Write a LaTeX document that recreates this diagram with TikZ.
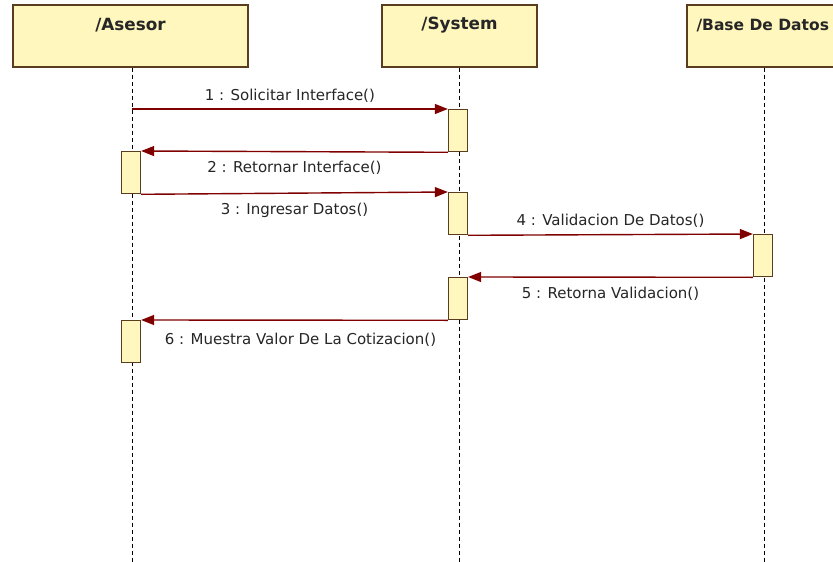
\documentclass[tikz,border=0pt]{standalone}
\usepackage{fontspec}
\setmainfont{DejaVu Sans}
\usetikzlibrary{arrows.meta}
\definecolor{objfill}{RGB}{255,247,190}
\definecolor{objborder}{RGB}{90,60,30}
\definecolor{msgred}{RGB}{128,0,0}
\tikzset{
  obj/.style={draw=objborder, fill=objfill, line width=1.3pt, minimum height=62pt, inner sep=0pt},
  objtitle/.style={font=\bfseries\fontsize{16.8}{19}\selectfont, text=black!85, inner sep=0pt},
  lifeline/.style={draw=black, line width=1pt, dash pattern=on 4pt off 3pt},
  act/.style={draw=objborder, fill=objfill, line width=1.3pt, minimum width=19pt, minimum height=42pt, inner sep=0pt, anchor=north},
  msg/.style={draw=msgred, line width=1.4pt, -{Triangle[length=13pt,width=10pt]}},
  msglabel/.style={font=\fontsize{15}{17}\selectfont, text=black!85, inner sep=0pt}
}
\begin{document}
\begin{tikzpicture}[x=1pt,y=-1pt]
\useasboundingbox (0,0) rectangle (833,562);
\fill[white] (0,0) rectangle (833,562);
\clip (0,0) rectangle (833,562);
% objects
\node[obj, minimum width=235pt] (asesor) at (130.5,36) {};
\node[obj, minimum width=155pt] (system) at (459.5,36) {};
\node[obj, minimum width=156pt] (base) at (765,36) {};
\node[objtitle] (tA) at ([yshift=-21pt]asesor.north) {/Asesor};
\node[objtitle] (tS) at ([yshift=-21pt]system.north) {/System};
\node[objtitle, font=\bfseries\fontsize{15.5}{18}\selectfont, anchor=west] (tB) at ([yshift=-21pt]base.north west) [xshift=10pt] {/Base De Datos};
% lifeline ends
\coordinate (aEnd) at (132,562);
\coordinate (sEnd) at (459,562);
\coordinate (bEnd) at (764,562);
\draw[lifeline] (asesor.south -| aEnd) -- (aEnd);
\draw[lifeline] (system.south -| sEnd) -- (sEnd);
\draw[lifeline] (base.south -| bEnd) -- (bEnd);
% activations
\node[act] (s1) at (458,109) {};
\node[act] (a1) at (131,151) {};
\node[act] (s2) at (458,192) {};
\node[act] (b1) at (763,234) {};
\node[act] (s3) at (458,277) {};
\node[act] (a2) at (131,320) {};
% messages
\draw[msg] (aEnd |- s1.north west) -- node[msglabel, above=6pt] {1 : Solicitar Interface()} (s1.north west);
\draw[msg] (s1.south west) -- node[msglabel, below=9pt] {2 : Retornar Interface()} (a1.north east);
\draw[msg] (a1.south east) -- node[msglabel, below=9pt] {3 : Ingresar Datos()} (s2.north west);
\draw[msg] (s2.south east) -- node[msglabel, above=6pt] {4 : Validacion De Datos()} (b1.north west);
\draw[msg] (b1.south west) -- node[msglabel, below=9pt] {5 : Retorna Validacion()} (s3.north east);
\draw[msg] (s3.south west) -- node[msglabel, below=12pt, xshift=6pt] {6 : Muestra Valor De La Cotizacion()} (a2.north east);
\end{tikzpicture}
\end{document}
